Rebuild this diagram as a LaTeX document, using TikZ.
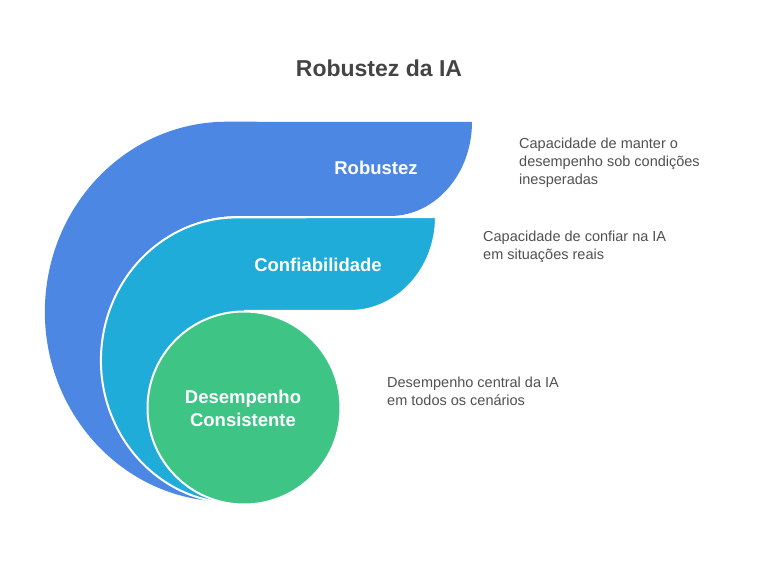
\documentclass[tikz,border=0pt]{standalone}
\usepackage{fontspec}
\setmainfont{Liberation Sans}
\usepackage{tikz}
\usetikzlibrary{positioning}
\definecolor{robblue}{HTML}{4C87E4}
\definecolor{confcyan}{HTML}{1FACD9}
\definecolor{consgreen}{HTML}{3EC585}
\definecolor{titlegray}{HTML}{444444}
\definecolor{descgray}{HTML}{505050}

\begin{document}
\begin{tikzpicture}[x=1pt,y=1pt,
    lbl/.style={text=white,font=\bfseries\fontsize{18.5}{23}\selectfont,align=center,inner sep=0pt},
    desc/.style={text=descgray,font=\fontsize{14.5}{18}\selectfont,align=left,anchor=west,inner sep=0pt}]
    \useasboundingbox (0,0) rectangle (757,564);

    % outer layer
    \fill[robblue] (211,63) arc[start angle=265,end angle=90,x radius=182,y radius=190]
        -- (472,442) arc[start angle=0,end angle=-90,x radius=82,y radius=94]
        -- (238,348) arc[start angle=90,end angle=262,x radius=136,y radius=143] -- cycle;
    % middle layer
    \fill[confcyan] (218,62) arc[start angle=262,end angle=90,x radius=136,y radius=143]
        -- (436,347) arc[start angle=0,end angle=-90,x radius=86,y radius=94]
        -- (244,253) -- (236,160) -- cycle;
    \draw[white,line width=2pt] (218,62) arc[start angle=262,end angle=90,x radius=136,y radius=143]
        -- (436,347) arc[start angle=0,end angle=-90,x radius=86,y radius=94] -- (244,253);
    % core
    \filldraw[consgreen,draw=white,line width=2pt] (244,156) circle (96.5);

    \node[text=titlegray,font=\bfseries\fontsize{23}{28}\selectfont] (title) at (379,496) {Robustez da IA};
    \node[lbl] (robustez) at (376,396) {Robustez};
    \node[lbl] (confiab) at (318,299) {Confiabilidade};
    \node[lbl] (desemp) at (243,156) {Desempenho\\Consistente};

    \node[desc] (descrob) at (519,401) {Capacidade de manter o\\desempenho sob condições\\inesperadas};
    \node[desc] (descconf) at (483,317) {Capacidade de confiar na IA\\em situações reais};
    \node[desc] (descdes) at (387,173) {Desempenho central da IA\\em todos os cenários};
\end{tikzpicture}
\end{document}
